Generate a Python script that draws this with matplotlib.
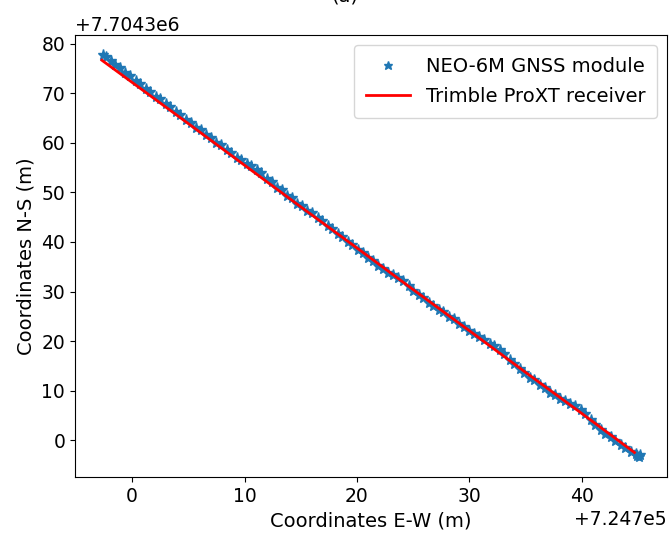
#!/usr/bin/env python3
import numpy as np
import matplotlib
matplotlib.use("Agg")
import matplotlib.pyplot as plt

# --- Offsets of the local grid (UTM, metres) ---
E0 = 724700.0
N0 = 7704300.0

# --- NEO-6M GNSS track (relative to E0 / N0) ---
neo_e = [-2.6, -2.3, -1.9, -1.5, -1.1, -0.6, -0.2, 0.3, 0.7, 1.2, 1.6, 2.1,
         2.5, 3.0, 3.4, 3.9, 4.3, 4.8, 5.2, 5.7, 6.1, 6.6, 7.0, 7.5, 7.9,
         8.4, 8.8, 9.3, 9.7, 10.2, 10.6, 11.1, 11.5, 12.0, 12.4, 12.9, 13.3,
         13.8, 14.2, 14.7, 15.1, 15.6, 16.0, 16.5, 16.9, 17.4, 17.8, 18.3,
         18.7, 19.2, 19.6, 20.1, 20.5, 21.0, 21.4, 21.9, 22.3, 22.8, 23.2,
         23.7, 24.1, 24.6, 25.0, 25.5, 25.9, 26.4, 26.8, 27.3, 27.7, 28.2,
         28.6, 29.1, 29.5, 30.0, 30.4, 30.9, 31.3, 31.8, 32.2, 32.7, 33.1,
         33.6, 34.0, 34.5, 34.9, 35.4, 35.8, 36.3, 36.7, 37.2, 37.6, 38.1,
         38.5, 39.0, 39.4, 39.9, 40.3, 40.8, 41.2, 41.7, 42.1, 42.6, 43.0,
         43.5, 43.9, 44.4, 44.8, 45.1, 45.2, 44.9]
neo_n = [77.7, 77.3, 76.5, 75.7, 75.2, 74.1, 73.5, 72.5, 71.9, 70.9, 70.3, 69.3,
         68.8, 67.8, 67.2, 66.2, 65.7, 64.7, 64.1, 63.1, 62.6, 61.6, 61.0, 60.0,
         59.5, 58.6, 58.0, 57.0, 56.5, 55.8, 55.3, 54.6, 53.9, 52.8, 52.1, 51.0,
         50.4, 49.3, 48.8, 47.7, 47.3, 46.3, 45.9, 44.8, 44.3, 43.2, 42.6, 41.6,
         41.0, 40.0, 39.4, 38.4, 37.8, 36.8, 36.2, 35.2, 34.6, 33.8, 33.3, 32.7,
         32.1, 31.1, 30.2, 29.2, 28.6, 27.7, 27.1, 26.3, 25.8, 24.9, 24.4, 23.5,
         22.9, 22.0, 21.5, 20.8, 20.2, 19.5, 18.9, 18.1, 17.3, 16.2, 15.4, 14.3,
         13.6, 12.6, 12.1, 11.1, 10.6, 9.6, 9.2, 8.3, 7.9, 7.2, 6.8, 6.1, 5.3,
         4.0, 3.0, 2.1, 1.3, 0.6, -0.2, -0.9, -1.6, -2.3, -2.9, -3.4, -3.1, -3.3]

# --- Trimble ProXT reference track ---
trimble_e = [-2.7, 5.0, 10.0, 15.0, 20.0, 25.0, 30.0, 35.0, 40.0, 44.7]
trimble_n = [76.7, 63.9, 55.5, 47.1, 38.8, 30.4, 22.1, 13.7, 5.4, -2.5]

plt.rcParams["font.size"] = 14
plt.rcParams["xtick.labelsize"] = 13.5
plt.rcParams["ytick.labelsize"] = 13.5

fig = plt.figure(figsize=(6.69, 5.33), dpi=100)
ax = fig.add_axes([0.112, 0.105, 0.885, 0.829])

ax.plot(np.array(neo_e) + E0, np.array(neo_n) + N0, "*", ms=8,
        color="#1f77b4", label="NEO-6M GNSS module")
ax.plot(np.array(trimble_e) + E0, np.array(trimble_n) + N0, "r-", lw=2,
        label="Trimble ProXT receiver")

ax.set_xlabel("Coordinates E-W (m)")
ax.set_ylabel("Coordinates N-S (m)")
ax.legend(loc="upper right", markerscale=0.8, labelspacing=0.6,
          borderpad=0.6, handlelength=2.3)

# panel label, partly cut by the top edge like in the figure
fig.text(0.516, 0.989, "(a)", ha="center", va="bottom", fontsize=14)

fig.savefig("out.png", dpi=100)
